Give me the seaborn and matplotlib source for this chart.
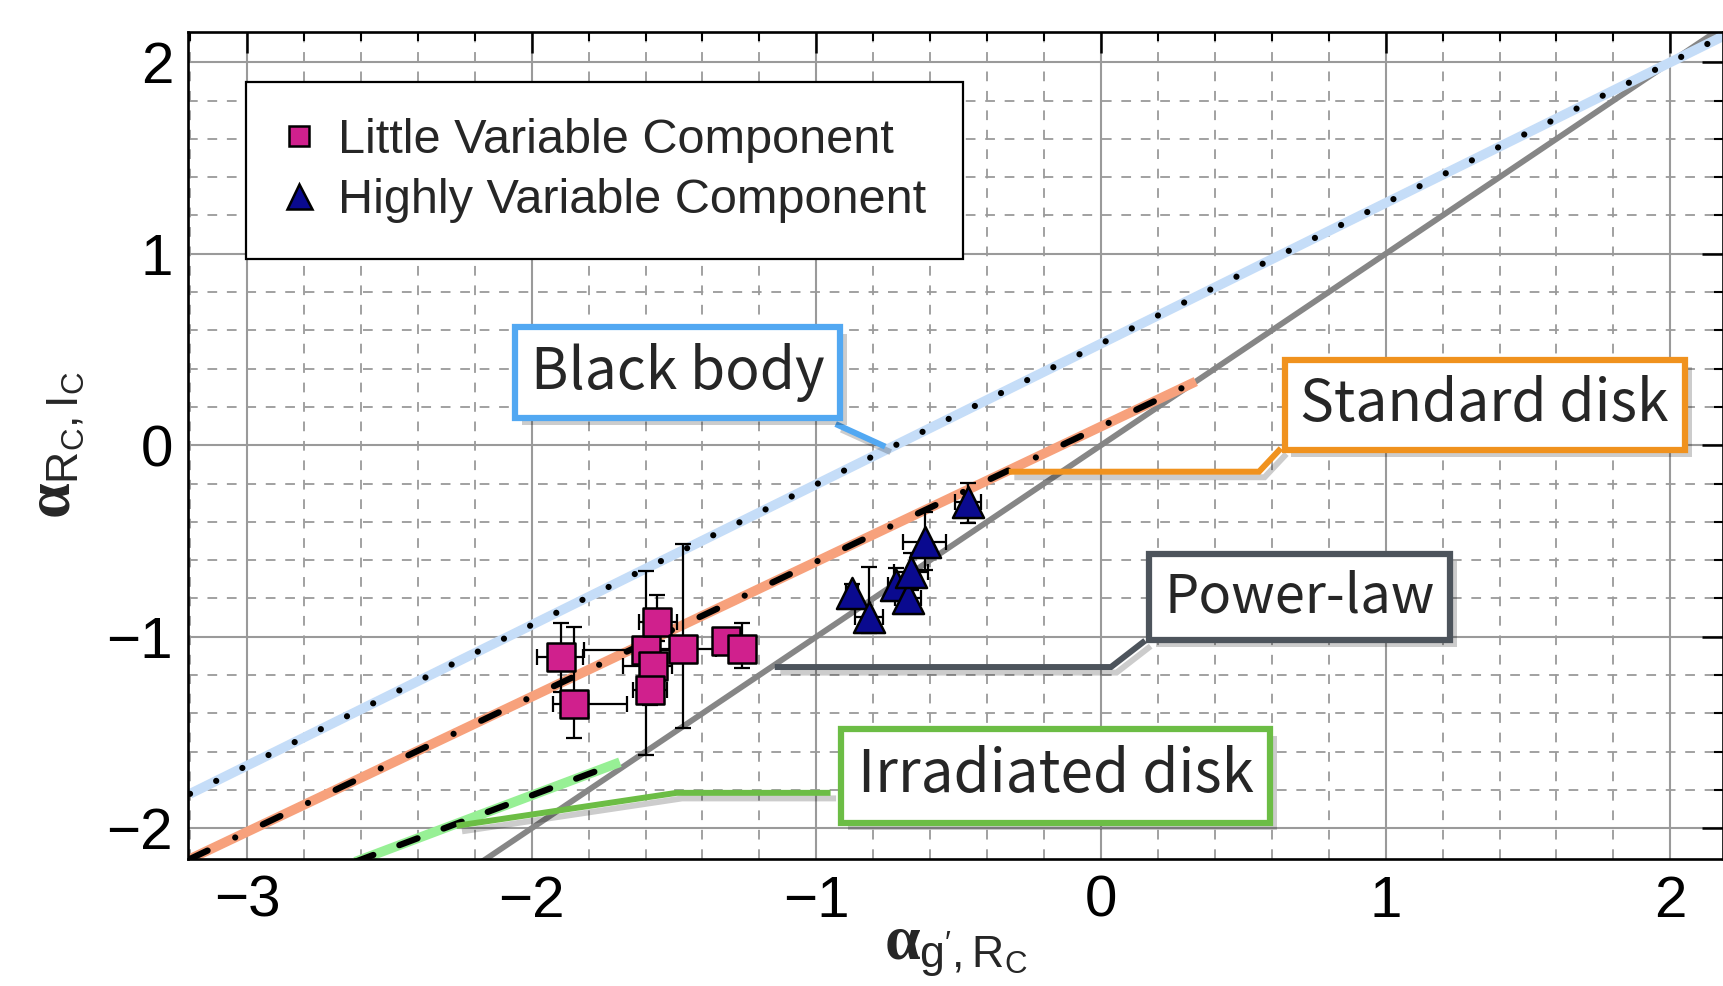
import numpy as np
import pandas as pd
import matplotlib
matplotlib.use("Agg")
import matplotlib.pyplot as plt
import matplotlib.patheffects as pe
from matplotlib.lines import Line2D
from matplotlib.ticker import MultipleLocator
import seaborn as sns

# ---------------- data ----------------
little_x = [-1.898, -1.850, -1.597, -1.559, -1.575, -1.584, -1.468, -1.316, -1.260]
little_y = [-1.107, -1.351, -1.069, -0.921, -1.152, -1.277, -1.065, -1.020, -1.065]
little_xerr_lo = [0.084, 0.076, 0.22, 0.064, 0.105, 0.06, 0.094, 0.03, 0.04]
little_xerr_hi = [0.077, 0.185, 0.10, 0.068, 0.067, 0.06, 0.117, 0.03, 0.04]
little_yerr_lo = [0.18, 0.18, 0.55, 0.10, 0.10, 0.08, 0.41, 0.03, 0.10]
little_yerr_hi = [0.18, 0.40, 0.41, 0.14, 0.10, 0.08, 0.55, 0.03, 0.136]

high_x = [-0.875, -0.815, -0.719, -0.678, -0.666, -0.619, -0.467]
high_y = [-0.773, -0.895, -0.729, -0.799, -0.660, -0.503, -0.295]
high_xerr = [0.02, 0.05, 0.03, 0.044, 0.06, 0.075, 0.047]
high_yerr_lo = [0.05, 0.084, 0.05, 0.064, 0.096, 0.15, 0.11]
high_yerr_hi = [0.05, 0.26, 0.087, 0.05, 0.096, 0.157, 0.096]

blackbody_x = [-3.2, 2.2]
blackbody_y = [-1.82, 2.147]
standard_x = [-3.2, 0.333]
standard_y = [-2.16, 0.333]
irradiated_x = [-2.62, -1.69]
irradiated_y = [-2.175, -1.655]
powerlaw_x = [-3.2, 2.2]
powerlaw_y = [-3.2, 2.2]

series_names = ["Little Variable Component", "Highly Variable Component"]
box_labels = ["Black body", "Standard disk", "Power-law", "Irradiated disk"]
box_text_xy = [(-1.487, 0.378), (1.348, 0.211), (0.698, -0.792), (-0.159, -1.727)]
pointer_x = [[-0.932, -0.758], [-0.324, 0.555, 0.632], [-1.146, 0.035, 0.155], [-2.264, -1.491, -0.95]]
pointer_y = [[0.111, -0.007], [-0.138, -0.138, -0.016], [-1.158, -1.158, -1.02], [-1.987, -1.815, -1.815]]
box_colors = ["#52a8f2", "#f0921e", "#4d545c", "#6cbd45"]
box_fontsizes = [41, 41, 39, 42]

x_ticks = [-3, -2, -1, 0, 1, 2]
y_ticks = [-2, -1, 0, 1, 2]

# ---------------- style ----------------
sns.set_theme(style="white")
plt.rcParams["font.family"] = ["Liberation Sans", "DejaVu Sans"]
plt.rcParams["mathtext.fontset"] = "custom"
plt.rcParams["mathtext.rm"] = "Liberation Sans"
plt.rcParams["mathtext.it"] = "Liberation Serif:bold"
plt.rcParams["mathtext.default"] = "it"
plt.rcParams["lines.scale_dashes"] = False

fig = plt.figure(figsize=(17.23, 9.86), dpi=100)
ax = fig.add_axes([0.1093, 0.1285, 0.8907, 0.8394])
ax.set_xlim(-3.206, 2.185)
ax.set_ylim(-2.162, 2.16)

ax.xaxis.set_minor_locator(MultipleLocator(0.2))
ax.yaxis.set_minor_locator(MultipleLocator(0.2))
ax.set_xticks(x_ticks)
ax.set_yticks(y_ticks)

ax.grid(which="minor", color="#9a9a9a", linewidth=1.3, linestyle=(0, (7, 7)), zorder=0)
ax.grid(which="major", color="#9a9a9a", linewidth=1.5, linestyle="-", zorder=0)
ax.set_axisbelow(True)

ax.tick_params(which="both", direction="in", top=True, right=True, colors="black")
ax.tick_params(which="major", length=15, width=1.8, labelsize=42, pad=11)
ax.tick_params(which="minor", length=6.5, width=1.5)
for s in ax.spines.values():
    s.set_linewidth(1.9)
    s.set_color("black")

# ---------------- model lines ----------------
ax.plot(powerlaw_x, powerlaw_y, color="#868686", lw=4.2, zorder=2, solid_capstyle="butt")
ax.plot(blackbody_x, blackbody_y, color="#c5ddf8", lw=7, zorder=2, solid_capstyle="butt")
ax.plot(blackbody_x, blackbody_y, color="black", lw=4.5, zorder=3,
        linestyle=(0, (0.01, 21)), dash_capstyle="round")
ax.plot(standard_x, standard_y, color="#f7a17c", lw=7, zorder=2, solid_capstyle="butt")
ax.plot(standard_x, standard_y, color="black", lw=4.5, zorder=3,
        linestyle=(0, (14, 22, 0.01, 22)), dash_capstyle="round")
ax.plot(irradiated_x, irradiated_y, color="#97f095", lw=7, zorder=2, solid_capstyle="butt")
ax.plot(irradiated_x, irradiated_y, color="black", lw=4.5, zorder=3,
        linestyle=(0, (14, 20)), dash_capstyle="round")

# ---------------- data points ----------------
ax.errorbar(little_x, little_y, xerr=[little_xerr_lo, little_xerr_hi],
            yerr=[little_yerr_lo, little_yerr_hi], fmt="none", ecolor="black",
            elinewidth=1.6, capsize=6, capthick=1.6, zorder=4)
ax.errorbar(high_x, high_y, xerr=high_xerr, yerr=[high_yerr_lo, high_yerr_hi],
            fmt="none", ecolor="black", elinewidth=1.6, capsize=6, capthick=1.6, zorder=4)

df = pd.DataFrame({
    "x": little_x + high_x,
    "y": little_y + high_y,
    "comp": [series_names[0]] * len(little_x) + [series_names[1]] * len(high_x),
})
sns.scatterplot(data=df[df.comp == series_names[0]], x="x", y="y", marker="s", s=380,
                color="#d0208d", edgecolor="black", linewidth=1.8, ax=ax, zorder=5, legend=False)
sns.scatterplot(data=df[df.comp == series_names[1]], x="x", y="y", marker="^", s=500,
                color="#0a0a8f", edgecolor="black", linewidth=1.8, ax=ax, zorder=5, legend=False)

ax.set_xlabel(r"$\alpha_{\mathrm{g}'\mathrm{,R}_{\mathrm{C}}}$", fontsize=46)
ax.set_ylabel(r"$\alpha_{\mathrm{R}_{\mathrm{C}}\mathrm{,I}_{\mathrm{C}}}$", fontsize=46)
ax.yaxis.set_label_coords(-0.066, 0.5)
ax.xaxis.set_label_coords(0.5, -0.072)

# ---------------- legend ----------------
handles = [
    Line2D([], [], linestyle="none", marker="s", markersize=14, markerfacecolor="#d0208d",
           markeredgecolor="black", markeredgewidth=1.8),
    Line2D([], [], linestyle="none", marker="^", markersize=18, markerfacecolor="#0a0a8f",
           markeredgecolor="black", markeredgewidth=1.8),
]
leg = ax.legend(handles, series_names, loc="upper left", bbox_to_anchor=(0.0374, 0.9396),
                fontsize=35, frameon=True, fancybox=False, framealpha=1, edgecolor="black",
                borderpad=0.75, handletextpad=0.45, handlelength=0.7, labelspacing=0.3,
                borderaxespad=0)
leg.get_frame().set_linewidth(1.6)
leg.set_zorder(6)

# ---------------- annotation boxes ----------------
shadow_box = [pe.SimplePatchShadow(offset=(5, -5), shadow_rgbFace="black", alpha=0.2), pe.Normal()]
shadow_line = [pe.SimpleLineShadow(offset=(4, -4), shadow_color="black", alpha=0.2), pe.Normal()]
for lab, (tx, ty), px, py, col, fs in zip(box_labels, box_text_xy, pointer_x, pointer_y,
                                           box_colors, box_fontsizes):
    ax.plot(px, py, color=col, lw=4.3, zorder=6, solid_capstyle="butt",
            solid_joinstyle="miter", path_effects=shadow_line)
    t = ax.text(tx, ty, lab, fontsize=fs, ha="center", va="center", zorder=7,
                family=["Noto Sans CJK JP", "DejaVu Sans"],
                bbox=dict(boxstyle="square,pad=0.28", fc="white", ec=col, lw=4.5))
    t.get_bbox_patch().set_path_effects(shadow_box)

fig.savefig("out.png", dpi=100)
